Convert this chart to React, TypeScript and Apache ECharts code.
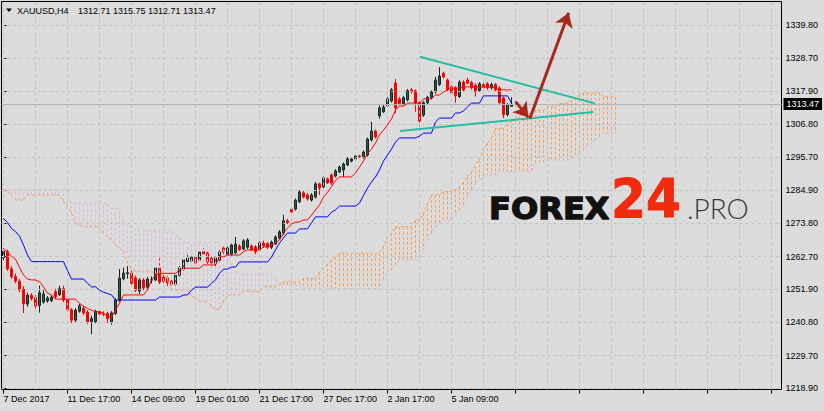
import React, { useEffect, useRef } from "react";
import * as echarts from "echarts";

// ---------- data ----------
const SYMBOL = "XAUUSD";
const TIMEFRAME = "H4";
const BAR_SLOTS = 195; // bar slots visible across the chart
const LABEL_STEP = 16; // bars between time labels
const GRID_STEP = 8; // bars between vertical grid lines

const X_LABELS = [
  "7 Dec 2017",
  "11 Dec 17:00",
  "14 Dec 09:00",
  "19 Dec 01:00",
  "21 Dec 17:00",
  "27 Dec 17:00",
  "2 Jan 17:00",
  "5 Jan 09:00",
];

const Y_TICKS = [
  1218.9, 1229.7, 1240.8, 1251.9, 1262.7, 1273.8, 1284.9, 1295.7, 1306.8,
  1317.9, 1328.7, 1339.8,
];
const Y_MIN = 1218.41;
const Y_MAX = 1347.63;

// [open, close, low, high]
const CANDLES: number[][] = [
  [1262.3, 1264.5, 1261.5, 1265.5], [1264.4, 1258.6, 1257.9, 1265.0], [1258.6, 1256.0, 1255.2, 1259.5],
  [1256.0, 1254.5, 1253.8, 1257.0], [1254.5, 1251.6, 1250.8, 1255.2], [1251.8, 1246.9, 1243.9, 1252.8],
  [1246.9, 1249.8, 1246.0, 1250.6], [1249.8, 1248.7, 1248.0, 1250.5], [1249.0, 1246.2, 1245.5, 1249.8],
  [1246.4, 1250.6, 1244.0, 1253.0], [1247.5, 1250.2, 1247.0, 1251.5], [1247.9, 1248.9, 1247.3, 1249.5],
  [1248.0, 1249.2, 1247.5, 1249.8], [1251.0, 1249.3, 1248.5, 1252.0], [1250.0, 1252.0, 1249.5, 1253.0],
  [1252.0, 1248.2, 1247.5, 1253.0], [1248.2, 1244.9, 1244.3, 1248.8], [1245.0, 1241.5, 1240.5, 1245.5],
  [1241.5, 1244.8, 1240.8, 1245.5], [1244.5, 1246.3, 1244.0, 1246.9], [1245.5, 1243.9, 1243.3, 1246.2],
  [1244.2, 1240.9, 1240.2, 1244.8], [1241.0, 1242.0, 1236.8, 1243.0], [1241.0, 1244.5, 1240.5, 1245.0],
  [1244.4, 1243.5, 1243.0, 1245.0], [1243.6, 1243.5, 1242.8, 1244.5], [1243.8, 1242.0, 1240.6, 1244.3],
  [1240.9, 1243.9, 1240.0, 1244.5], [1243.8, 1248.2, 1243.2, 1248.8], [1248.2, 1255.5, 1247.6, 1258.5],
  [1255.3, 1257.2, 1254.8, 1259.0], [1257.0, 1257.3, 1255.3, 1259.5], [1257.2, 1253.8, 1253.2, 1258.0],
  [1255.6, 1251.5, 1250.8, 1256.3], [1251.2, 1254.9, 1250.2, 1255.5], [1254.9, 1252.2, 1251.5, 1255.5],
  [1252.5, 1255.2, 1252.0, 1255.9], [1254.9, 1254.9, 1253.8, 1256.0], [1254.9, 1258.9, 1254.5, 1259.5],
  [1258.9, 1254.2, 1253.5, 1262.2], [1255.8, 1254.5, 1253.9, 1256.5], [1255.5, 1253.9, 1252.9, 1256.2],
  [1254.5, 1253.5, 1253.0, 1255.0], [1253.5, 1256.5, 1253.0, 1257.0], [1256.5, 1258.9, 1256.0, 1259.5],
  [1258.5, 1261.6, 1258.0, 1262.2], [1261.0, 1262.2, 1260.5, 1264.2], [1261.2, 1262.5, 1260.8, 1263.0],
  [1262.5, 1260.5, 1259.9, 1263.0], [1261.5, 1264.2, 1261.0, 1265.0], [1264.4, 1263.5, 1263.0, 1265.5],
  [1263.9, 1260.9, 1260.0, 1264.5], [1262.2, 1260.6, 1259.2, 1262.8], [1260.5, 1262.3, 1259.5, 1262.8],
  [1261.5, 1264.2, 1261.0, 1264.8], [1265.5, 1264.2, 1263.5, 1266.0], [1263.2, 1265.5, 1262.8, 1266.0],
  [1263.5, 1266.5, 1263.0, 1267.0], [1264.0, 1266.8, 1263.5, 1269.2], [1266.2, 1265.0, 1264.5, 1266.8],
  [1265.2, 1267.9, 1264.8, 1268.5], [1265.8, 1268.2, 1265.2, 1268.8], [1266.2, 1264.9, 1264.5, 1266.8],
  [1265.9, 1264.2, 1263.5, 1266.5], [1264.9, 1267.2, 1264.5, 1267.8], [1267.2, 1266.3, 1265.6, 1268.0],
  [1267.0, 1265.8, 1265.2, 1267.5], [1265.8, 1267.5, 1265.2, 1268.0], [1266.9, 1269.2, 1266.5, 1269.8],
  [1268.8, 1270.9, 1268.3, 1271.5], [1270.5, 1274.6, 1269.8, 1276.6], [1274.6, 1274.0, 1273.5, 1275.2],
  [1278.5, 1277.5, 1276.9, 1279.0], [1278.5, 1281.5, 1278.0, 1282.0], [1280.9, 1284.2, 1280.5, 1284.8],
  [1283.9, 1282.5, 1282.0, 1284.5], [1283.2, 1281.9, 1281.3, 1283.8], [1281.5, 1283.2, 1281.0, 1283.8],
  [1282.5, 1286.9, 1282.0, 1287.5], [1286.9, 1285.5, 1283.2, 1287.3], [1285.9, 1288.9, 1285.5, 1289.5],
  [1288.5, 1287.2, 1286.8, 1289.0], [1289.9, 1287.2, 1286.5, 1290.3], [1289.5, 1291.2, 1289.0, 1291.8],
  [1290.9, 1292.5, 1290.5, 1293.0], [1291.5, 1293.5, 1289.2, 1294.0], [1293.2, 1295.2, 1292.8, 1295.8],
  [1294.5, 1295.2, 1294.0, 1295.7], [1295.2, 1296.2, 1294.8, 1296.7], [1296.2, 1295.9, 1295.5, 1296.6],
  [1295.7, 1297.5, 1295.2, 1298.0], [1296.5, 1301.8, 1296.0, 1302.3], [1301.5, 1304.5, 1301.0, 1307.5],
  [1304.5, 1302.5, 1302.0, 1305.0], [1309.5, 1312.2, 1308.6, 1313.0], [1310.9, 1312.5, 1310.5, 1313.2],
  [1312.9, 1315.2, 1312.5, 1315.8], [1314.5, 1318.2, 1314.0, 1318.8], [1320.5, 1312.2, 1310.5, 1321.8],
  [1315.2, 1313.6, 1313.0, 1315.8], [1313.6, 1315.6, 1313.0, 1316.2], [1314.9, 1317.9, 1314.4, 1318.5],
  [1318.2, 1317.5, 1317.0, 1318.8], [1317.9, 1313.9, 1310.9, 1318.4], [1313.9, 1307.8, 1306.0, 1314.4],
  [1309.8, 1313.9, 1309.2, 1314.5], [1313.9, 1315.7, 1313.4, 1316.2], [1315.6, 1317.5, 1315.0, 1318.0],
  [1317.5, 1321.5, 1317.0, 1322.5], [1320.0, 1322.8, 1319.5, 1325.8], [1323.7, 1322.5, 1322.0, 1324.2],
  [1321.5, 1318.2, 1317.6, 1322.0], [1319.2, 1317.2, 1316.6, 1319.8], [1318.9, 1316.2, 1313.9, 1319.4],
  [1316.0, 1320.8, 1315.5, 1321.4], [1320.8, 1318.2, 1317.6, 1321.4], [1321.5, 1320.5, 1320.0, 1322.2],
  [1320.6, 1318.9, 1318.3, 1321.2], [1319.8, 1317.6, 1316.0, 1320.4], [1318.0, 1320.2, 1317.6, 1320.8],
  [1320.0, 1318.9, 1318.4, 1320.6], [1320.2, 1318.9, 1318.2, 1320.8], [1318.9, 1320.0, 1318.3, 1320.6],
  [1320.0, 1318.2, 1317.6, 1320.5], [1318.8, 1314.0, 1313.5, 1319.4], [1315.5, 1309.9, 1308.8, 1316.0],
  [1309.9, 1313.2, 1309.4, 1313.8], [1312.71, 1313.47, 1312.71, 1315.75],
];

const TENKAN = [
  1265.4, 1264.0, 1262.8, 1261.8, 1259.1, 1256.5, 1255.2, 1254.9, 1254.9, 1254.3,
  1252.6, 1250.5, 1249.9, 1248.5, 1248.5, 1248.5, 1248.5, 1248.5, 1248.5, 1247.1,
  1246.2, 1245.4, 1244.8, 1244.3, 1244.3, 1243.8, 1242.6, 1242.6, 1244.9, 1247.1,
  1249.9, 1249.9, 1249.9, 1249.9, 1249.9, 1249.9, 1251.5, 1254.9, 1256.5, 1257.1,
  1257.1, 1257.1, 1257.1, 1257.1, 1258.2, 1258.8, 1258.8, 1258.8, 1258.8, 1258.8,
  1259.9, 1259.9, 1259.9, 1259.9, 1262.6, 1262.6, 1263.2, 1263.2, 1263.2, 1263.2,
  1264.3, 1264.9, 1264.9, 1264.9, 1264.9, 1265.9, 1265.9, 1266.5, 1267.2, 1268.2,
  1270.5, 1272.2, 1273.5, 1274.2, 1274.2, 1274.9, 1274.9, 1276.5, 1278.2, 1279.9,
  1282.5, 1284.0, 1286.0, 1288.0, 1289.2, 1289.2, 1289.2, 1289.2, 1290.5, 1292.5,
  1294.5, 1297.0, 1298.5, 1300.5, 1303.2, 1304.8, 1306.5, 1308.5, 1311.5, 1312.8,
  1312.8, 1313.8, 1313.8, 1313.8, 1313.8, 1315.2, 1315.2, 1315.2, 1316.5, 1316.5,
  1317.5, 1318.2, 1318.8, 1318.8, 1318.8, 1319.2, 1319.2, 1319.2, 1319.2, 1319.2,
  1319.2, 1319.2, 1319.2, 1318.8, 1318.2, 1318.2, 1318.2, 1318.2,
];

const KIJUN = [
  1275.4, 1274.0, 1272.0, 1271.0, 1269.5, 1266.5, 1263.2, 1261.0, 1261.0, 1261.0,
  1261.0, 1261.0, 1261.0, 1261.0, 1261.0, 1261.0, 1258.0, 1255.2, 1255.2, 1255.2,
  1255.2, 1253.8, 1252.6, 1252.6, 1251.5, 1250.8, 1250.4, 1249.9, 1248.2, 1248.2,
  1248.2, 1248.2, 1248.2, 1248.2, 1248.2, 1248.2, 1248.2, 1248.2, 1248.2, 1249.2,
  1249.2, 1249.2, 1249.2, 1249.2, 1249.2, 1249.9, 1249.9, 1251.5, 1252.5, 1252.5,
  1252.5, 1252.5, 1253.8, 1254.9, 1257.1, 1258.5, 1258.5, 1259.2, 1259.2, 1260.9,
  1260.9, 1260.9, 1260.9, 1260.9, 1260.9, 1260.9, 1260.9, 1262.5, 1264.9, 1267.2,
  1268.9, 1270.5, 1270.5, 1270.5, 1271.9, 1271.9, 1271.9, 1273.9, 1275.9, 1275.9,
  1275.9, 1275.9, 1277.5, 1278.2, 1279.5, 1279.5, 1279.5, 1279.5, 1279.5, 1280.5,
  1283.0, 1285.5, 1287.5, 1289.2, 1291.5, 1294.5, 1296.5, 1298.5, 1300.8, 1302.2,
  1302.2, 1302.2, 1302.2, 1302.2, 1302.8, 1303.8, 1303.8, 1303.8, 1307.5, 1308.8,
  1308.8, 1308.8, 1308.8, 1310.5, 1310.5, 1311.2, 1312.5, 1313.8, 1313.8, 1313.8,
  1316.2, 1316.2, 1316.2, 1316.2, 1316.2, 1316.2, 1316.2, 1313.8,
];

const SPAN_A = [
  1284.6, 1284.6, 1283.0, 1281.5, 1281.5, 1281.5, 1283.2, 1283.2, 1283.2, 1283.2,
  1283.2, 1283.2, 1283.2, 1283.2, 1283.2, 1281.0, 1279.3, 1277.1, 1273.8, 1273.2,
  1272.6, 1272.6, 1272.6, 1272.6, 1272.6, 1270.4, 1269.3, 1268.2, 1266.5, 1265.4,
  1264.3, 1260.4, 1258.8, 1257.6, 1257.6, 1257.6, 1257.6, 1257.6, 1257.1, 1257.1,
  1257.1, 1254.9, 1251.5, 1251.5, 1251.5, 1251.5, 1251.5, 1249.3, 1249.3, 1247.6,
  1247.6, 1247.6, 1246.0, 1245.1, 1245.1, 1247.6, 1249.9, 1249.9, 1249.9, 1249.9,
  1251.0, 1251.0, 1251.0, 1251.0, 1251.0, 1252.6, 1252.6, 1252.6, 1252.6, 1253.5,
  1254.3, 1254.3, 1254.3, 1254.3, 1254.3, 1255.4, 1255.4, 1255.4, 1255.4, 1257.5,
  1259.0, 1260.3, 1261.5, 1262.5, 1263.8, 1263.8, 1263.8, 1263.8, 1263.8, 1263.8,
  1263.8, 1263.8, 1263.8, 1263.8, 1263.8, 1266.0, 1269.3, 1270.5, 1272.6, 1272.6,
  1272.6, 1272.6, 1272.6, 1274.9, 1274.9, 1277.1, 1280.4, 1283.2, 1283.2, 1283.2,
  1284.3, 1284.3, 1284.3, 1285.0, 1285.9, 1287.5, 1289.3, 1291.0, 1293.0, 1295.0,
  1298.7, 1300.5, 1302.1, 1305.4, 1305.4, 1305.4, 1306.8, 1308.2, 1309.3, 1309.3,
  1310.4, 1310.4, 1310.4, 1311.5, 1311.5, 1311.5, 1312.6, 1312.6, 1312.6, 1313.7,
  1313.7, 1313.7, 1314.8, 1315.6, 1316.5, 1317.2, 1317.2, 1317.2, 1317.2, 1317.2,
  1315.9, 1315.9, 1315.9, 1315.9,
];

const SPAN_B = [
  1284.8, 1284.8, 1284.8, 1284.8, 1284.8, 1284.8, 1284.8, 1284.8, 1284.8, 1284.8,
  1284.8, 1284.8, 1284.8, 1284.8, 1284.8, 1284.8, 1284.8, 1280.4, 1280.4, 1280.4,
  1280.4, 1280.4, 1280.4, 1280.4, 1280.4, 1280.4, 1280.4, 1278.7, 1278.7, 1278.7,
  1274.9, 1272.6, 1272.6, 1271.5, 1271.5, 1271.5, 1271.5, 1271.5, 1271.5, 1271.5,
  1271.5, 1271.5, 1271.5, 1270.0, 1269.0, 1267.5, 1267.5, 1267.5, 1267.5, 1267.5,
  1267.5, 1267.5, 1267.5, 1267.5, 1267.5, 1265.0, 1262.5, 1260.0, 1258.0, 1256.9,
  1256.9, 1256.9, 1256.9, 1256.9, 1256.9, 1256.9, 1256.9, 1256.9, 1255.5, 1253.2,
  1253.2, 1253.2, 1253.2, 1253.2, 1253.2, 1252.2, 1252.2, 1252.2, 1252.2, 1252.2,
  1252.2, 1252.2, 1252.0, 1252.0, 1252.0, 1252.0, 1252.0, 1252.0, 1252.0, 1252.0,
  1252.0, 1252.0, 1252.0, 1252.0, 1252.0, 1254.9, 1258.0, 1258.0, 1260.0, 1261.5,
  1261.5, 1261.5, 1261.5, 1261.5, 1261.5, 1265.0, 1268.2, 1270.5, 1272.5, 1273.8,
  1274.9, 1274.9, 1274.9, 1276.5, 1278.0, 1279.3, 1282.0, 1284.8, 1287.1, 1288.5,
  1288.5, 1289.8, 1289.8, 1289.8, 1290.9, 1290.9, 1290.9, 1290.9, 1290.9, 1290.9,
  1290.9, 1290.9, 1290.9, 1293.7, 1294.2, 1294.2, 1294.8, 1294.8, 1294.8, 1294.8,
  1294.8, 1294.8, 1294.8, 1296.5, 1296.5, 1298.2, 1299.3, 1300.4, 1301.5, 1302.6,
  1303.7, 1303.7, 1303.7, 1303.7,
];

const BID = 1313.47;

// annotations in [bar index, price]
const TREND_LINES = [
  [[104.1, 1329.2], [147.8, 1313.7]],
  [[99.1, 1304.5], [147.4, 1310.8]],
];
const ARROWS = [
  [[128.0, 1314.3], [131.2, 1309.1]],
  [[131.6, 1308.7], [141.3, 1343.9]],
];

// ---------- chart ----------
const UI_FONT = '"Liberation Sans", Arial, sans-serif';

function buildOption() {
  const cats = Array.from({ length: BAR_SLOTS }, (_, i) => String(i));
  const gridXs: number[] = [];
  for (let i = 0; i < BAR_SLOTS; i += GRID_STEP) gridXs.push(i);
  const last = CANDLES[CANDLES.length - 1];
  const f = (v: number) => v.toFixed(2);
  const ohlcText = `${f(last[0])} ${f(last[3])} ${f(last[2])} ${f(last[1])}`;

  return {
    animation: false,
    backgroundColor: "#dcdcdc",
    grid: {
      left: 1.5,
      top: 1.5,
      width: 780,
      height: 388,
      show: true,
      borderColor: "#000",
      borderWidth: 1,
      backgroundColor: "#dcdcdc",
    },
    xAxis: [
      {
        type: "category",
        data: cats,
        boundaryGap: true,
        axisLine: { show: false },
        axisTick: {
          show: true,
          interval: LABEL_STEP - 1,
          alignWithLabel: true,
          length: 4,
          lineStyle: { color: "#000" },
        },
        axisLabel: {
          interval: LABEL_STEP - 1,
          formatter: (_v: string, i: number) =>
            i % LABEL_STEP === 0 ? X_LABELS[i / LABEL_STEP] ?? "" : "",
          color: "#000",
          fontSize: 9,
          fontFamily: UI_FONT,
          align: "left",
          margin: 5,
        },
        splitLine: { show: false },
      },
      { type: "value", min: -0.5, max: BAR_SLOTS - 0.5, show: false },
    ],
    yAxis: {
      type: "value",
      position: "right",
      min: Y_MIN,
      max: Y_MAX,
      axisLine: { show: false },
      axisTick: { show: true, customValues: Y_TICKS, length: 3, lineStyle: { color: "#000" } },
      axisLabel: {
        customValues: Y_TICKS,
        formatter: (v: number) => v.toFixed(2),
        color: "#000",
        fontSize: 9,
        fontFamily: UI_FONT,
        margin: 4,
      },
      splitLine: { show: false },
    },
    series: [
      {
        name: "grid",
        type: "line",
        xAxisIndex: 1,
        data: [],
        z: 1,
        silent: true,
        markLine: {
          silent: true,
          symbol: ["none", "none"],
          label: { show: false },
          lineStyle: { color: "#c2c2c2", type: [3, 3], width: 1 },
          emphasis: { disabled: true },
          data: [
            ...Y_TICKS.map((v) => ({ yAxis: v })),
            ...gridXs.map((i) => ({ xAxis: i })),
          ],
        },
      },
      {
        name: "price",
        type: "candlestick",
        data: CANDLES,
        barWidth: 2,
        z: 2,
        silent: true,
        itemStyle: {
          color: "#2f5e4e",
          color0: "#ff0000",
          borderColor: "#15271f",
          borderColor0: "#ff0000",
          borderColorDoji: "#000",
          borderWidth: 1,
        },
        markLine: {
          silent: true,
          symbol: ["none", "none"],
          emphasis: { disabled: true },
          lineStyle: { color: "#b4b4b4", width: 1, type: "solid" },
          label: {
            show: true,
            position: "end",
            formatter: () => BID.toFixed(2),
            color: "#fff",
            backgroundColor: "#000",
            fontSize: 9,
            fontFamily: UI_FONT,
            padding: [2, 3, 1, 3],
            distance: 2,
          },
          data: [{ yAxis: BID }],
        },
      },
      {
        name: "cloud",
        type: "custom",
        xAxisIndex: 1,
        z: 3,
        silent: true,
        data: SPAN_A.map((a, i) => [i, a, SPAN_B[i]]),
        encode: { x: 0, y: [1, 2] },
        renderItem: (_p: any, api: any) => {
          const i = api.value(0);
          const a = api.value(1);
          const b = api.value(2);
          const p1 = api.coord([i, a]);
          const p2 = api.coord([i, b]);
          return {
            type: "line",
            shape: { x1: p1[0], y1: p1[1], x2: p2[0], y2: p2[1] },
            style: { stroke: a >= b ? "#f4a460" : "#d8bfd8", lineWidth: 1, lineDash: [3, 2] },
            silent: true,
          };
        },
      },
      {
        name: "Senkou A",
        type: "line",
        data: SPAN_A,
        symbol: "none",
        z: 4,
        silent: true,
        lineStyle: { color: "#f4a460", width: 1, type: [3, 2] },
      },
      {
        name: "Senkou B",
        type: "line",
        data: SPAN_B,
        symbol: "none",
        z: 4,
        silent: true,
        lineStyle: { color: "#d8bfd8", width: 1, type: [3, 2] },
      },
      {
        name: "Kijun",
        type: "line",
        data: KIJUN,
        symbol: "none",
        z: 5,
        silent: true,
        lineStyle: { color: "#0000ff", width: 1 },
      },
      {
        name: "Tenkan",
        type: "line",
        data: TENKAN,
        symbol: "none",
        z: 5,
        silent: true,
        lineStyle: { color: "#ff0000", width: 1 },
      },
      {
        name: "triangle",
        type: "lines",
        coordinateSystem: "cartesian2d",
        xAxisIndex: 1,
        z: 6,
        silent: true,
        symbol: ["none", "none"],
        lineStyle: { color: "#27bca4", width: 2, opacity: 1 },
        data: TREND_LINES.map((c) => ({ coords: c })),
      },
      {
        name: "arrows",
        type: "lines",
        coordinateSystem: "cartesian2d",
        xAxisIndex: 1,
        z: 7,
        silent: true,
        symbol: ["none", "arrow"],
        symbolSize: 14,
        lineStyle: { color: "#a9281c", width: 3, opacity: 1 },
        data: ARROWS.map((c) => ({ coords: c })),
      },
    ],
    graphic: [
      {
        type: "polygon",
        z: 100,
        shape: { points: [[6, 8.5], [12, 8.5], [9, 12]] },
        style: { fill: "#000" },
      },
      {
        type: "text",
        z: 100,
        x: 17,
        y: 10.5,
        style: {
          text: `${SYMBOL},${TIMEFRAME}`,
          fill: "#000",
          fontSize: 9,
          fontFamily: UI_FONT,
          verticalAlign: "middle",
        },
      },
      {
        type: "text",
        z: 100,
        x: 78,
        y: 10.5,
        style: {
          text: ohlcText,
          fill: "#000",
          fontSize: 9,
          fontFamily: UI_FONT,
          verticalAlign: "middle",
        },
      },
      {
        type: "text",
        z: 100,
        x: 489,
        y: 208.5,
        scaleX: 1.07,
        style: {
          text: "FOREX",
          fill: "#111",
          stroke: "#111",
          lineWidth: 1.3,
          fontSize: 30,
          fontWeight: "bold",
          fontFamily: '"DejaVu Sans", sans-serif',
          verticalAlign: "middle",
        },
      },
      {
        type: "text",
        z: 100,
        x: 611,
        y: 198.5,
        scaleX: 0.93,
        style: {
          text: "24",
          fill: "#f02b0e",
          stroke: "#f02b0e",
          lineWidth: 1,
          fontSize: 54,
          fontWeight: "bold",
          fontFamily: '"DejaVu Sans", sans-serif',
          verticalAlign: "middle",
        },
      },
      {
        type: "text",
        z: 100,
        x: 687,
        y: 207.5,
        style: {
          text: ".PRO",
          fill: "#3a3a3a",
          fontSize: 28,
          fontWeight: 300,
          fontFamily: 'Lato, "Open Sans", sans-serif',
          verticalAlign: "middle",
        },
      },
    ],
  };
}

export default function App() {
  const ref = useRef<HTMLDivElement>(null);
  useEffect(() => {
    if (!ref.current) return;
    const chart = echarts.init(ref.current, null, { renderer: "svg" });
    chart.setOption(buildOption() as any);
    return () => chart.dispose();
  }, []);
  return (
    <div
      ref={ref}
      style={{ position: "fixed", left: 0, top: 0, width: 824, height: 411 }}
    />
  );
}
